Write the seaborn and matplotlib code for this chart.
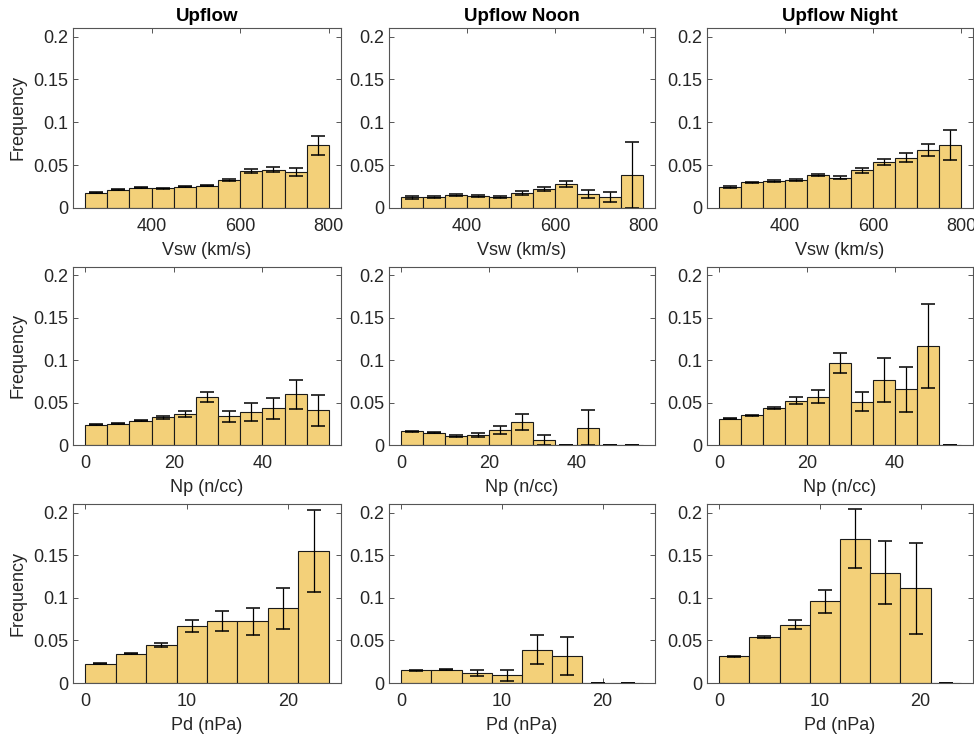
import numpy as np
import pandas as pd
import seaborn as sns
import matplotlib
matplotlib.use('Agg')
import matplotlib.pyplot as plt

# bin layout for each quantity: (start, stop, width)
vsw_bins = (250, 800, 50)
np_bins = (0, 55, 5)
pd_bins = (0, 24, 3)

# Vsw frequency and error, per group
vsw_up = [0.0176, 0.0215, 0.0234, 0.0230, 0.0250, 0.0258, 0.0324, 0.0430, 0.0445, 0.0420, 0.0734]
vsw_up_err = [0.0006, 0.0006, 0.0006, 0.0006, 0.0007, 0.0007, 0.0010, 0.0020, 0.0030, 0.0043, 0.0110]
vsw_noon = [0.0125, 0.0127, 0.0152, 0.0140, 0.0129, 0.0176, 0.0219, 0.0280, 0.0160, 0.0125, 0.0387]
vsw_noon_err = [0.0020, 0.0010, 0.0010, 0.0010, 0.0012, 0.0020, 0.0025, 0.0037, 0.0045, 0.0060, 0.0387]
vsw_night = [0.0246, 0.0300, 0.0316, 0.0328, 0.0383, 0.0355, 0.0441, 0.0535, 0.0586, 0.0676, 0.0734]
vsw_night_err = [0.0010, 0.0008, 0.0008, 0.0008, 0.0012, 0.0016, 0.0030, 0.0035, 0.0050, 0.0070, 0.0178]

# Np
np_up = [0.0240, 0.0249, 0.0288, 0.0327, 0.0363, 0.0568, 0.0339, 0.0390, 0.0434, 0.0596, 0.0410]
np_up_err = [0.0004, 0.0005, 0.0008, 0.0020, 0.0034, 0.0060, 0.0065, 0.0103, 0.0124, 0.0175, 0.0180]
np_noon = [0.0162, 0.0146, 0.0110, 0.0118, 0.0174, 0.0272, 0.0059, 0.0, 0.0205, 0.0, 0.0]
np_noon_err = [0.0005, 0.0006, 0.0010, 0.0024, 0.0047, 0.0095, 0.0059, 0.0, 0.0203, 0.0, 0.0]
np_night = [0.0312, 0.0351, 0.0438, 0.0525, 0.0572, 0.0966, 0.0513, 0.0765, 0.0655, 0.1168, 0.0]
np_night_err = [0.0006, 0.0007, 0.0012, 0.0040, 0.0077, 0.0118, 0.0114, 0.0260, 0.0260, 0.0500, 0.0]

# Pd
pd_up = [0.0227, 0.0345, 0.0447, 0.0670, 0.0725, 0.0722, 0.0878, 0.1550]
pd_up_err = [0.0004, 0.0006, 0.0025, 0.0070, 0.0118, 0.0160, 0.0240, 0.0480]
pd_noon = [0.0149, 0.0157, 0.0122, 0.0090, 0.0392, 0.0314, 0.0, 0.0]
pd_noon_err = [0.0004, 0.0010, 0.0035, 0.0065, 0.0173, 0.0220, 0.0, 0.0]
pd_night = [0.0314, 0.0537, 0.0686, 0.0957, 0.1694, 0.1294, 0.1110, 0.0]
pd_night_err = [0.0004, 0.0010, 0.0057, 0.0130, 0.0349, 0.0367, 0.0533, 0.0]

titles = ['Upflow', 'Upflow Noon', 'Upflow Night']
xlabels = ['Vsw (km/s)', 'Np (n/cc)', 'Pd (nPa)']
xticks = [[400, 600, 800], [0, 20, 40], [0, 10, 20]]
yticks = [0, 0.05, 0.1, 0.15, 0.2]
ytick_labels = ['0', '0.05', '0.1', '0.15', '0.2']

rows = [
    (vsw_bins, [(vsw_up, vsw_up_err), (vsw_noon, vsw_noon_err), (vsw_night, vsw_night_err)]),
    (np_bins, [(np_up, np_up_err), (np_noon, np_noon_err), (np_night, np_night_err)]),
    (pd_bins, [(pd_up, pd_up_err), (pd_noon, pd_noon_err), (pd_night, pd_night_err)]),
]

sns.set_style('ticks')
plt.rcParams['font.family'] = ['Liberation Sans', 'DejaVu Sans']

bar_color = '#F3D079'
axis_color = '#555555'
text_color = '#262626'

fig = plt.figure(figsize=(9.74, 7.38), dpi=100)
W, H = 974, 738
col_left = [73, 389, 707]
col_width = [268, 266, 266]
row_top = [28, 267, 504]
row_height = [180, 178, 179]

for r, ((lo, hi, bw), groups) in enumerate(rows):
    centers = np.arange(lo, hi, bw) + bw / 2
    pad = 0.05 * (hi - lo)
    for c, (freq, err) in enumerate(groups):
        ax = fig.add_axes([col_left[c] / W, 1 - (row_top[r] + row_height[r]) / H,
                           col_width[c] / W, row_height[r] / H])
        df = pd.DataFrame({'center': centers, 'freq': freq})
        sns.histplot(data=df, x='center', weights='freq', binwidth=bw, binrange=(lo, hi),
                     ax=ax, color=bar_color, alpha=1, edgecolor='#1a1a1a', linewidth=0.8)
        ax.errorbar(centers, freq, yerr=err, fmt='none', ecolor='black',
                    elinewidth=0.9, capsize=5, capthick=1.1)
        ax.set_xlim(lo - pad, hi + pad)
        ax.set_ylim(0, 0.21)
        ax.set_xticks(xticks[r])
        ax.set_yticks(yticks)
        ax.set_yticklabels(ytick_labels)
        ax.tick_params(direction='in', length=3.5, width=0.7, colors=axis_color,
                       labelcolor=text_color, labelsize=13, top=True, right=True)
        ax.tick_params(axis='x', pad=7)
        for s in ax.spines.values():
            s.set_visible(True)
            s.set_color(axis_color)
            s.set_linewidth(0.8)
        ax.set_xlabel(xlabels[r], fontsize=13, color=text_color, labelpad=5)
        if c == 0:
            ax.set_ylabel('Frequency', fontsize=13, color=text_color, labelpad=5)
        else:
            ax.set_ylabel('')
        if r == 0:
            ax.set_title(titles[c], fontsize=13.5, fontweight='bold', color='black', pad=5)

plt.savefig('out.png', dpi=100)
